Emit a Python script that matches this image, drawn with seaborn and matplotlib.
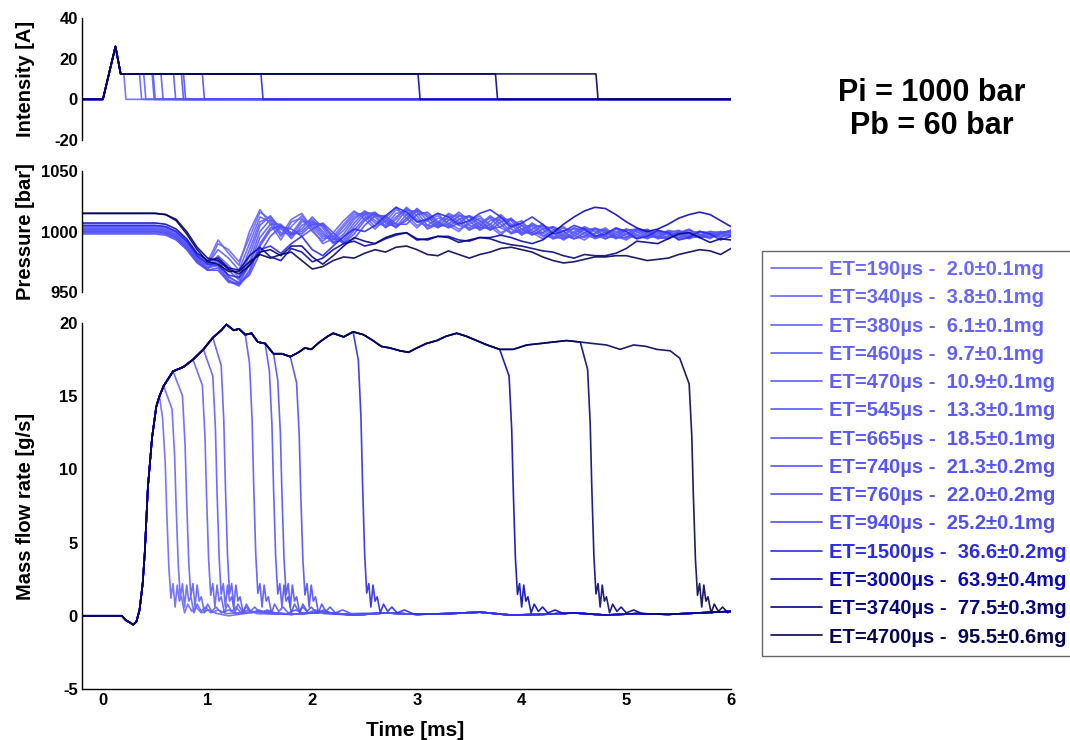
import numpy as np
import pandas as pd
import matplotlib
matplotlib.use("Agg")
import matplotlib.pyplot as plt
import seaborn as sns
from matplotlib.lines import Line2D

# ---------------- data ----------------
et_us = [190, 340, 380, 460, 470, 545, 665, 740, 760, 940, 1500, 3000, 3740, 4700]
mass_mg = ["2.0±0.1", "3.8±0.1", "6.1±0.1", "9.7±0.1", "10.9±0.1", "13.3±0.1", "18.5±0.1",
           "21.3±0.2", "22.0±0.2", "25.2±0.1", "36.6±0.2", "63.9±0.4", "77.5±0.3", "95.5±0.6"]
colors = ["#6868ff", "#6565ff", "#6262ff", "#6060ff", "#5d5dff", "#5a5aff", "#5757ff",
          "#5454fc", "#5252fa", "#4f4ff8", "#2b2bea", "#0a0ab4", "#06067f", "#050555"]

# intensity: common opening (peak and hold), drop at end of energizing
int_head_t = [-0.2, 0.0, 0.12, 0.17]
int_head_v = [0.0, 0.0, 26.0, 12.5]
int_hold = 12.5

# mass flow: common envelope of the rate shape
env_t = [-0.2, 0.18, 0.22, 0.29, 0.32, 0.35, 0.38, 0.40, 0.43, 0.47, 0.51, 0.54, 0.58, 0.67,
         0.77, 0.86, 0.96, 1.05, 1.13, 1.18, 1.25, 1.30, 1.36, 1.42, 1.48, 1.55, 1.63, 1.71,
         1.79, 1.87, 1.93, 1.99, 2.07, 2.15, 2.20, 2.30, 2.39, 2.49, 2.58, 2.66, 2.74, 2.84,
         2.92, 3.00, 3.09, 3.19, 3.28, 3.38, 3.47, 3.57, 3.67, 3.79, 3.92, 4.05, 4.18, 4.30,
         4.43, 4.56, 4.68, 4.81, 4.94, 5.07, 5.19, 5.29, 5.42, 5.51]
env_v = [0.0, 0.0, -0.3, -0.6, -0.4, 0.4, 2.2, 4.3, 8.8, 12.2, 14.3, 15.0, 15.7, 16.7,
         17.0, 17.5, 18.2, 19.0, 19.5, 19.9, 19.5, 19.6, 19.2, 19.3, 18.7, 18.6, 17.9, 17.9,
         17.7, 18.0, 18.3, 18.2, 18.7, 19.1, 19.3, 19.05, 19.4, 19.2, 18.8, 18.4, 18.3, 18.1,
         18.0, 18.3, 18.6, 18.8, 19.1, 19.3, 19.1, 18.8, 18.5, 18.2, 18.2, 18.5, 18.6, 18.7,
         18.8, 18.7, 18.6, 18.5, 18.2, 18.5, 18.4, 18.2, 18.1, 17.6]
# time where each rate trace falls through half of its level
close_time = [0.61, 0.70, 0.80, 0.99, 1.09, 1.17, 1.44, 1.63, 1.71, 1.89, 2.48, 3.92, 4.67, 5.64]
close_dt = [-0.04, -0.015, 0.0, 0.02, 0.04]
close_frac = [0.9, 0.7, 0.47, 0.22, 0.08]
ring_dt = [0.06, 0.08, 0.10, 0.12, 0.14, 0.17, 0.20, 0.24, 0.28, 0.33, 0.40, 0.48]
ring_v = [2.2, 0.6, 2.1, 1.0, 1.3, 0.2, 0.8, 0.3, 0.6, 0.2, 0.4, 0.15]
base_t = [0.9, 1.2, 1.5, 1.8, 2.1, 2.4, 2.7, 3.0, 3.3, 3.6, 3.9, 4.2, 4.5, 4.8, 5.1, 5.4, 5.7, 6.0]
base_v = [0.2, 0.0, 0.3, 0.1, 0.25, 0.05, 0.2, 0.1, 0.15, 0.25, 0.05, 0.1, 0.2, 0.05, 0.15, 0.1, 0.2, 0.3]

# pressure traces, sampled at 0.4, 0.5, ... 6.0 ms (flat before 0.4 ms)
p_190 = [1000, 1000, 999, 995, 987, 977, 972, 990, 985, 975,
         995, 1016, 1010, 996, 1004, 1013, 1004, 994, 996, 1006,
         1016, 1013, 1004, 1008, 1018, 1014, 1005, 1009, 1013, 1007,
         1002, 1006, 1011, 1006, 999, 1003, 1007, 1001, 996, 999,
         1003, 999, 995, 998, 1002, 998, 994, 997, 1001, 999,
         995, 997, 1001, 998, 995, 998, 1000]
p_340 = [1002, 1002, 1001, 997, 989, 978, 975, 993, 982, 972,
         1000, 1018, 1006, 993, 1008, 1011, 1000, 992, 999, 1009,
         1017, 1010, 1002, 1011, 1020, 1011, 1003, 1011, 1015, 1005,
         1000, 1008, 1013, 1004, 997, 1005, 1009, 999, 994, 1001,
         1004, 997, 993, 999, 1003, 996, 993, 999, 1002, 997,
         994, 999, 1002, 997, 994, 999, 1001]
p_380 = [1003, 1003, 1002, 998, 990, 979, 973, 985, 978, 968,
         990, 1012, 1008, 997, 1010, 1015, 1002, 990, 994, 1004,
         1014, 1015, 1007, 1005, 1015, 1017, 1008, 1005, 1011, 1010,
         1005, 1003, 1008, 1011, 1003, 999, 1005, 1004, 997, 995,
         1001, 1002, 997, 995, 1000, 1000, 996, 995, 999, 1000,
         997, 995, 999, 1000, 997, 996, 999]
p_460 = [1001, 1001, 1000, 996, 988, 977, 970, 980, 972, 962,
         985, 1008, 1012, 999, 998, 1010, 1006, 996, 993, 1001,
         1012, 1016, 1009, 1004, 1012, 1019, 1010, 1003, 1008, 1014,
         1008, 1001, 1006, 1013, 1006, 998, 1002, 1006, 999, 994,
         998, 1003, 999, 994, 997, 1002, 998, 994, 997, 1001,
         998, 994, 997, 1000, 998, 995, 998]
p_470 = [1004, 1004, 1003, 999, 991, 980, 974, 979, 968, 960,
         980, 1005, 1013, 1002, 996, 1008, 1008, 998, 991, 998,
         1010, 1017, 1012, 1003, 1010, 1020, 1013, 1002, 1006, 1015,
         1011, 1002, 1004, 1012, 1009, 999, 1000, 1007, 1002, 994,
         996, 1003, 1001, 995, 996, 1002, 1000, 995, 996, 1000,
         999, 995, 996, 1000, 999, 996, 997]
p_545 = [999, 999, 998, 994, 986, 975, 969, 977, 963, 957,
         975, 1000, 1010, 1004, 994, 1005, 1010, 1000, 990, 995,
         1007, 1016, 1014, 1004, 1007, 1018, 1016, 1005, 1004, 1012,
         1014, 1005, 1002, 1009, 1012, 1002, 998, 1005, 1004, 996,
         994, 1000, 1003, 997, 994, 999, 1002, 997, 994, 998,
         1000, 997, 994, 997, 1000, 998, 996]
p_665 = [1005, 1005, 1004, 1000, 992, 981, 973, 975, 962, 958,
         972, 995, 1006, 1006, 997, 1002, 1012, 1003, 991, 993,
         1004, 1014, 1016, 1007, 1004, 1014, 1018, 1009, 1003, 1009,
         1016, 1009, 1001, 1006, 1014, 1006, 997, 1002, 1006, 999,
         993, 998, 1004, 1000, 994, 997, 1002, 1000, 995, 996,
         1001, 999, 995, 996, 1000, 999, 997]
p_740 = [1002, 1002, 1001, 997, 989, 978, 970, 972, 960, 956,
         968, 990, 1003, 1004, 998, 1000, 1008, 1005, 994, 991,
         1001, 1011, 1015, 1009, 1003, 1011, 1019, 1012, 1004, 1006,
         1013, 1012, 1003, 1003, 1011, 1009, 999, 999, 1005, 1002,
         995, 996, 1002, 1002, 996, 995, 1001, 1002, 997, 995,
         999, 1001, 997, 995, 998, 1000, 999]
p_760 = [998, 998, 997, 993, 985, 974, 968, 970, 959, 955,
         966, 988, 1001, 1005, 999, 998, 1006, 1006, 996, 990,
         998, 1009, 1015, 1011, 1004, 1009, 1017, 1014, 1006, 1004,
         1010, 1013, 1006, 1001, 1008, 1011, 1002, 997, 1002, 1004,
         997, 994, 999, 1003, 999, 994, 998, 1002, 999, 994,
         996, 1000, 999, 995, 996, 999, 1000]
p_940 = [1000, 1000, 999, 995, 987, 976, 968, 968, 958, 957,
         964, 982, 996, 1004, 1002, 996, 1002, 1007, 999, 991,
         994, 1005, 1013, 1013, 1006, 1006, 1014, 1016, 1008, 1003,
         1007, 1013, 1009, 1002, 1004, 1010, 1005, 998, 999, 1004,
         1000, 994, 996, 1002, 1001, 995, 995, 1001, 1001, 995,
         994, 999, 1001, 997, 995, 998, 1001]
p_1500 = [1005, 1005, 1004, 1000, 992, 980, 973, 972, 964, 962,
          972, 985, 988, 982, 990, 996, 985, 980, 988, 996,
          1002, 1000, 1005, 1013, 1020, 1016, 1008, 1010, 1015, 1012,
          1006, 1009, 1015, 1018, 1012, 1004, 1007, 1012, 1006, 998,
          1000, 1005, 1002, 996, 998, 1003, 1000, 994, 996, 1001,
          999, 993, 995, 1000, 998, 993, 996]
p_3000 = [1007, 1007, 1006, 1002, 994, 982, 976, 978, 970, 968,
          980, 987, 979, 976, 986, 983, 975, 978, 985, 990,
          992, 988, 990, 994, 997, 999, 994, 993, 996, 996,
          993, 992, 995, 995, 997, 995, 992, 990, 993, 999,
          1006, 1012, 1017, 1020, 1019, 1014, 1008, 1003, 1000, 1002,
          1006, 1011, 1014, 1016, 1014, 1009, 1004]
p_3740 = [1015, 1015, 1014, 1010, 1000, 987, 978, 976, 969, 965,
          972, 983, 985, 980, 988, 988, 979, 973, 980, 988,
          995, 992, 990, 995, 998, 999, 993, 994, 996, 995,
          991, 993, 995, 994, 991, 989, 988, 986, 984, 983,
          980, 978, 981, 980, 980, 982, 986, 992, 991, 990,
          994, 998, 999, 995, 991, 994, 993]
p_4700 = [1015, 1015, 1014, 1009, 998, 985, 975, 973, 967, 967,
          975, 981, 978, 981, 983, 976, 969, 971, 976, 979,
          978, 982, 985, 983, 987, 988, 985, 981, 980, 984,
          981, 978, 981, 983, 986, 987, 985, 983, 979, 976,
          974, 975, 977, 979, 979, 980, 980, 978, 976, 977,
          978, 981, 983, 985, 984, 981, 986]
pressure = [p_190, p_340, p_380, p_460, p_470, p_545, p_665, p_740, p_760, p_940,
            p_1500, p_3000, p_3740, p_4700]
p_time = [-0.2] + [round(0.4 + 0.1 * k, 1) for k in range(57)]

labels = [f"ET={et}µs -  {m}mg" for et, m in zip(et_us, mass_mg)]

# ---------------- build long tables ----------------
rows_i, rows_p, rows_m = [], [], []
for lab, et, td, pv in zip(labels, et_us, close_time, pressure):
    # intensity
    ti = int_head_t + [et / 1000 + 0.01, et / 1000 + 0.03, 6.0]
    vi = int_head_v + [int_hold, 0.0, 0.0]
    rows_i += [(lab, a, b) for a, b in zip(ti, vi)]
    # pressure
    rows_p += [(lab, a, b) for a, b in zip(p_time, [pv[0]] + pv)]
    # mass flow
    tm = [a for a in env_t if a <= td - 0.06]
    vm = env_v[:len(tm)]
    last = vm[-1]
    tm += [td + d for d in close_dt]
    vm += [f * last for f in close_frac]
    tm += [td + d for d in ring_dt]
    vm += ring_v
    for a, b in zip(base_t, base_v):
        if a > td + ring_dt[-1] + 0.03:
            tm.append(a)
            vm.append(b)
    rows_m += [(lab, a, b) for a, b in zip(tm, vm) if a <= 6.0]

df_i = pd.DataFrame(rows_i, columns=["label", "t", "v"])
df_p = pd.DataFrame(rows_p, columns=["label", "t", "v"])
df_m = pd.DataFrame(rows_m, columns=["label", "t", "v"])

# ---------------- plotting ----------------
sns.set_style("white")
plt.rcParams["font.family"] = ["Liberation Sans", "DejaVu Sans"]
plt.rcParams["font.weight"] = "bold"
plt.rcParams["axes.unicode_minus"] = False
for key in ["text.color", "axes.labelcolor", "xtick.color", "ytick.color"]:
    plt.rcParams[key] = "black"

fig = plt.figure(figsize=(10.7, 7.4), dpi=100)
ax1 = fig.add_axes([0.0766, 0.8108, 0.6066, 0.1649])
ax2 = fig.add_axes([0.0766, 0.6054, 0.6066, 0.1635])
ax3 = fig.add_axes([0.0766, 0.0689, 0.6066, 0.4946])

for ax, df in [(ax1, df_i), (ax2, df_p), (ax3, df_m)]:
    sns.lineplot(data=df, x="t", y="v", hue="label", hue_order=labels, palette=colors,
                 estimator=None, sort=False, lw=1.2, alpha=0.9, legend=False, ax=ax)

ax1.set_ylim(-20, 40)
ax1.set_yticks([-20, 0, 20, 40])
ax2.set_ylim(950, 1050)
ax2.set_yticks([950, 1000, 1050])
ax3.set_ylim(-5, 20)
ax3.set_yticks([-5, 0, 5, 10, 15, 20])
ax3.set_xticks(range(0, 7))

for ax, lab in [(ax1, "Intensity [A]"), (ax2, "Pressure [bar]"), (ax3, "Mass flow rate [g/s]")]:
    ax.set_xlim(-0.2, 6)
    for s in ["top", "right"]:
        ax.spines[s].set_visible(False)
    ax.spines["left"].set_color("black")
    ax.spines["left"].set_linewidth(1.0)
    ax.tick_params(axis="both", direction="in", length=5, width=1.0, colors="black", pad=3)
    ax.set_ylabel(lab, fontsize=14.5, fontweight="bold")
    ax.yaxis.set_label_coords(-0.072, 0.5)
    ax.set_xlabel("")

for ax in [ax1, ax2]:
    ax.spines["bottom"].set_visible(False)
    ax.set_xticks([])

ax3.spines["bottom"].set_color("black")
ax3.spines["bottom"].set_linewidth(1.0)
ax3.set_xlabel("Time [ms]", fontsize=15, fontweight="bold")
ax3.xaxis.set_label_coords(0.513, -0.088)

for ax in [ax1, ax2, ax3]:
    for t in ax.get_xticklabels() + ax.get_yticklabels():
        t.set_fontsize(12)
        t.set_fontweight("bold")

fig.text(932 / 1070, 1 - 93 / 740, "Pi = 1000 bar", ha="center", va="center",
         fontsize=22, fontweight="bold")
fig.text(932 / 1070, 1 - 126 / 740, "Pb = 60 bar", ha="center", va="center",
         fontsize=22, fontweight="bold")

handles = [Line2D([], [], color=c, lw=1.2) for c in colors]
leg = fig.legend(handles, labels, loc="upper left", bbox_to_anchor=(0.7121, 0.6608),
                 prop={"weight": "bold", "size": 14.5}, frameon=True, fancybox=False,
                 edgecolor="#666666", framealpha=1, labelspacing=0.46, handlelength=2.55,
                 handletextpad=0.35, borderpad=0.45, borderaxespad=0)
leg.get_frame().set_linewidth(1.0)
for txt, c in zip(leg.get_texts(), colors):
    txt.set_color(c)

fig.savefig("out.png", dpi=100)
